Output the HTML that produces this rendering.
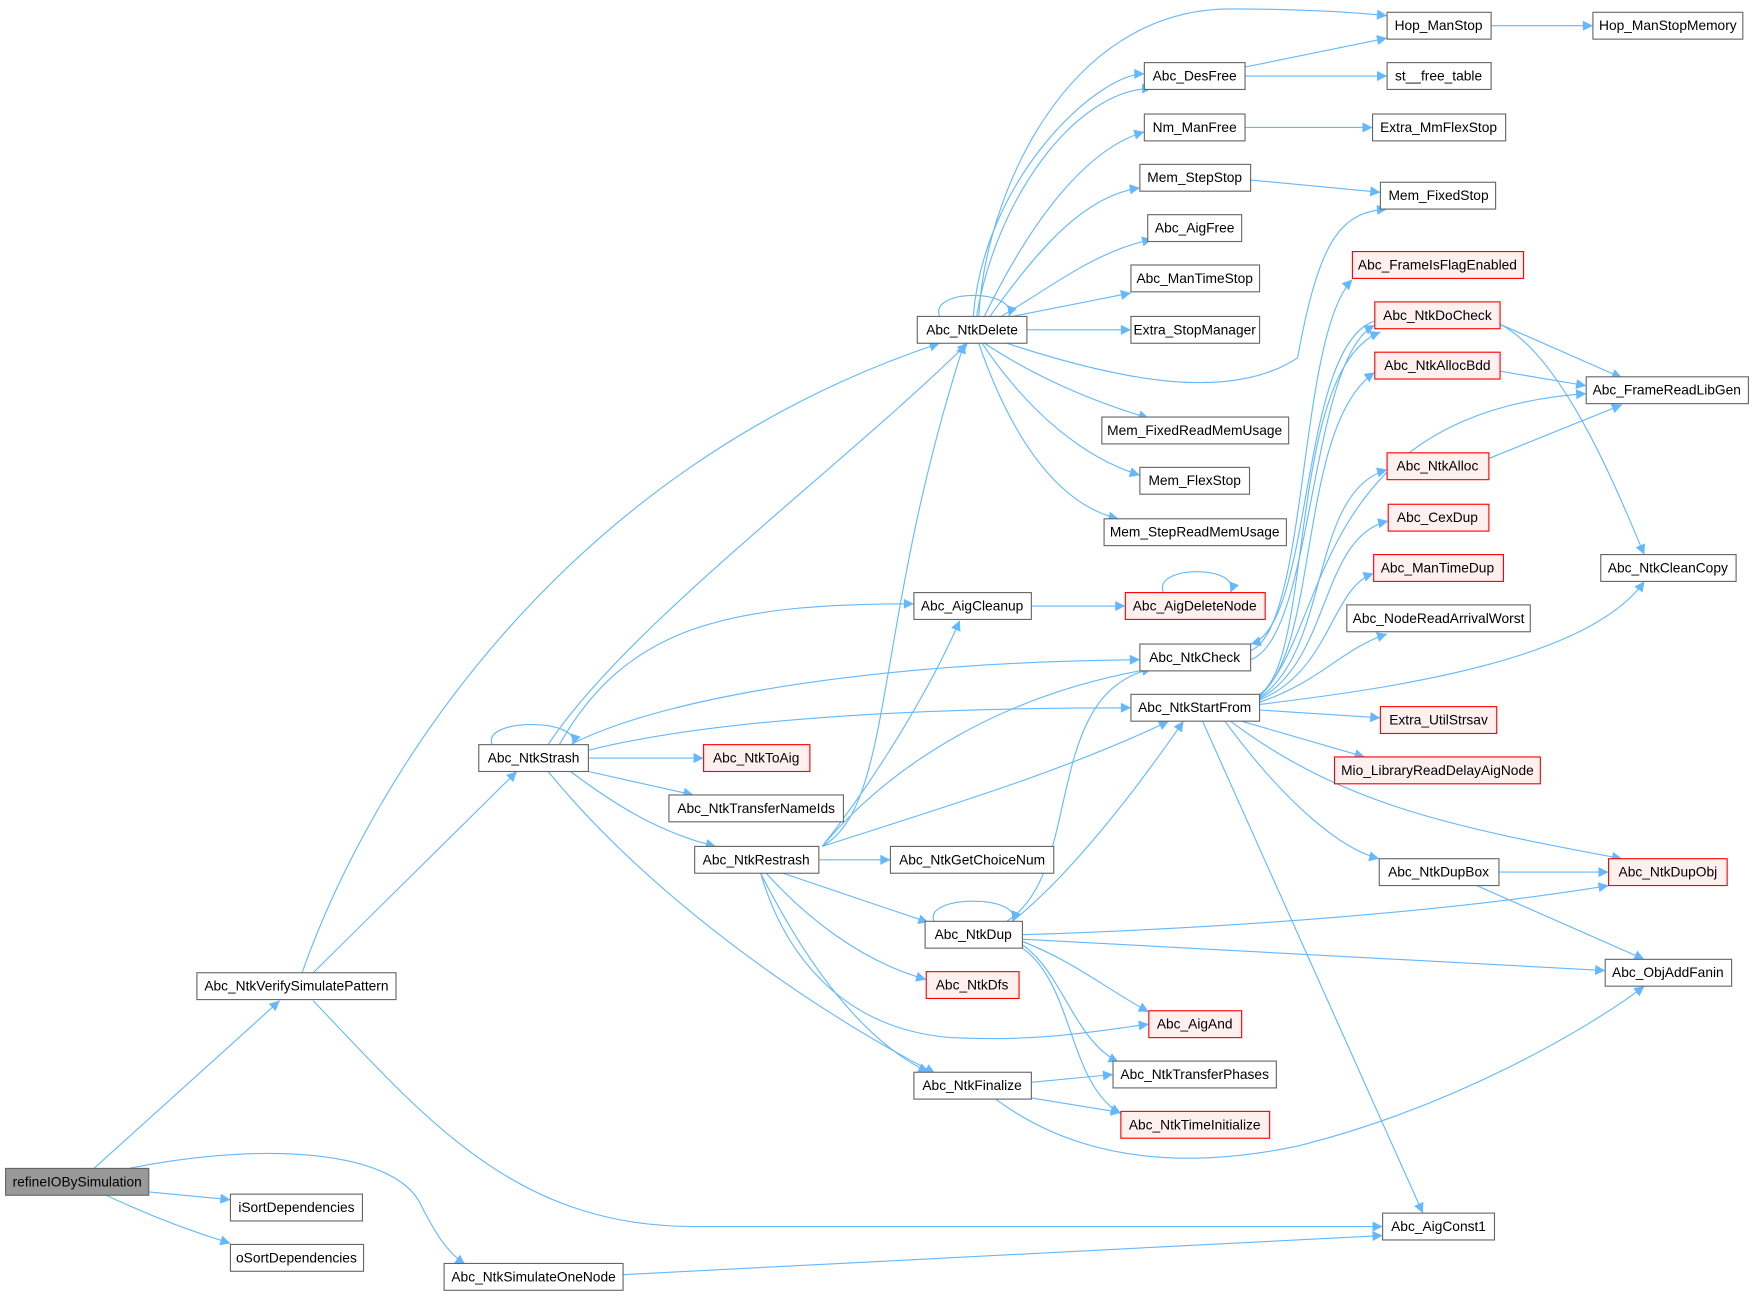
<!DOCTYPE html>
<html><head><meta charset="utf-8"><style>
html,body{margin:0;padding:0;background:#fff;}
svg{display:block;}
text{font-family:"Liberation Sans",Arial,sans-serif;font-size:12.3px;fill:#000;text-anchor:middle;}
.n{fill:#fff;stroke:#666;stroke-width:1;}
.r{fill:#fff0f0;stroke:#f00;stroke-width:1;}
.g{fill:#999;stroke:#666;stroke-width:1;}
path.e{fill:none;stroke:#63b8ff;stroke-width:1;marker-end:url(#a);}
</style></head><body>
<svg width="1754" height="1297" viewBox="0 0 1568 1160" preserveAspectRatio="none" xmlns="http://www.w3.org/2000/svg">
<defs><marker id="a" viewBox="0 0 10 10" refX="10" refY="5" markerWidth="11" markerHeight="9" orient="auto" markerUnits="userSpaceOnUse"><path d="M0,0 L10,5 L0,10 z" fill="#63b8ff"/></marker></defs>
<rect width="1568" height="1160" fill="#fff"/>
<g>
<path class="e" d="M84,1045 L250,895"/>
<path class="e" d="M133,1066 L206,1073"/>
<path class="e" d="M95,1069 Q150,1095 206,1112"/>
<path class="e" d="M115,1045 C240,1020 350,1030 375,1075 C390,1105 400,1120 416,1131"/>
<path class="e" d="M270,870 C330,700 500,420 840,307"/>
<path class="e" d="M280,870 L462,690"/>
<path class="e" d="M280,895 C380,1000 460,1097 620,1097 L1236,1097"/>
<path class="e" d="M440,666 C430,642 520,642 512,666"/>
<path class="e" d="M490,666 C560,560 750,420 865,307"/>
<path class="e" d="M500,666 C560,560 650,540 817,540"/>
<path class="e" d="M510,666 C600,620 800,592 1019,590"/>
<path class="e" d="M526,671 C650,640 850,633 1011,633"/>
<path class="e" d="M526,678 L629,678"/>
<path class="e" d="M526,690 L620,711"/>
<path class="e" d="M510,690 C550,720 590,745 640,757"/>
<path class="e" d="M490,690 C580,800 720,900 836,960"/>
<path class="e" d="M735,757 C800,720 780,560 862,307"/>
<path class="e" d="M735,757 C780,700 830,620 858,555"/>
<path class="e" d="M735,757 C800,680 900,620 1030,598"/>
<path class="e" d="M735,757 C850,720 950,690 1045,645"/>
<path class="e" d="M732,769 L796,769"/>
<path class="e" d="M700,781 L830,825"/>
<path class="e" d="M685,781 C720,820 770,860 828,876"/>
<path class="e" d="M680,781 C700,850 750,920 850,928 C930,932 980,922 1027,916"/>
<path class="e" d="M680,781 C720,860 770,930 830,959"/>
<path class="e" d="M835,824 C825,800 915,800 905,824"/>
<path class="e" d="M900,824 C970,780 930,620 1030,598"/>
<path class="e" d="M905,824 C960,780 1020,700 1058,645"/>
<path class="e" d="M914,836 C1100,830 1300,815 1438,792"/>
<path class="e" d="M914,840 L1435,868"/>
<path class="e" d="M914,842 C960,860 990,885 1027,905"/>
<path class="e" d="M914,845 C950,870 960,930 1000,950"/>
<path class="e" d="M914,848 C960,880 955,970 1002,996"/>
<path class="e" d="M922,968 L995,961"/>
<path class="e" d="M922,982 L1002,995"/>
<path class="e" d="M890,983 C960,1035 1050,1048 1160,1025 C1300,990 1420,920 1470,882"/>
<path class="e" d="M922,542 L1006,542"/>
<path class="e" d="M1040,530 C1030,505 1110,505 1100,530"/>
<path class="e" d="M840,283 C830,258 910,258 902,283"/>
<path class="e" d="M875,283 C880,180 950,8 1100,8 C1150,8 1200,10 1240,14"/>
<path class="e" d="M873,283 C890,180 960,80 1030,79"/>
<path class="e" d="M870,283 C880,160 980,66 1023,66"/>
<path class="e" d="M880,283 C930,180 980,130 1023,118"/>
<path class="e" d="M885,283 C930,220 970,175 1019,168"/>
<path class="e" d="M895,283 C950,250 980,225 1030,214"/>
<path class="e" d="M905,283 L1011,262"/>
<path class="e" d="M918,295 L1011,295"/>
<path class="e" d="M900,307 C1000,340 1100,360 1160,320 C1180,210 1200,190 1240,187"/>
<path class="e" d="M880,307 C930,340 980,360 1027,374"/>
<path class="e" d="M878,307 C920,370 970,410 1019,425"/>
<path class="e" d="M875,307 C900,380 940,450 1000,464"/>
<path class="e" d="M1113,60 L1240,34"/>
<path class="e" d="M1113,68 L1240,68"/>
<path class="e" d="M1113,114 L1227,114"/>
<path class="e" d="M1118,161 L1234,172"/>
<path class="e" d="M1333,23 L1424,23"/>
<path class="e" d="M1229,287 C1160,310 1175,560 1118,576"/>
<path class="e" d="M1118,582 C1170,560 1160,300 1209,250"/>
<path class="e" d="M1118,590 C1175,570 1170,320 1229,291"/>
<path class="e" d="M1126,621 C1175,590 1150,330 1234,297"/>
<path class="e" d="M1126,622 C1180,580 1160,380 1229,333"/>
<path class="e" d="M1126,623 C1190,560 1170,370 1418,352"/>
<path class="e" d="M1126,624 C1190,580 1170,440 1240,420"/>
<path class="e" d="M1126,625 C1190,590 1180,480 1241,466"/>
<path class="e" d="M1126,626 C1190,600 1190,525 1228,513"/>
<path class="e" d="M1126,628 C1180,610 1200,580 1240,567"/>
<path class="e" d="M1126,630 C1250,615 1420,590 1470,520"/>
<path class="e" d="M1126,635 L1234,642"/>
<path class="e" d="M1110,645 L1220,677"/>
<path class="e" d="M1095,645 C1150,720 1200,760 1233,768"/>
<path class="e" d="M1100,645 C1200,720 1300,740 1450,768"/>
<path class="e" d="M1075,645 L1272,1085"/>
<path class="e" d="M1341,290 L1450,338"/>
<path class="e" d="M1341,290 C1400,320 1450,450 1470,496"/>
<path class="e" d="M1341,332 L1418,345"/>
<path class="e" d="M1331,410 L1450,362"/>
<path class="e" d="M1340,780 L1438,780"/>
<path class="e" d="M1320,792 L1470,858"/>
<path class="e" d="M557,1140 L1236,1105"/>
</g>
<g>
<rect class="g" x="5" y="1045" width="128" height="24"/><text x="69" y="1061">refineIOBySimulation</text>
<rect class="n" x="206" y="1068" width="118" height="24"/><text x="265" y="1084">iSortDependencies</text>
<rect class="n" x="206" y="1113" width="119" height="24"/><text x="265" y="1129">oSortDependencies</text>
<rect class="n" x="397" y="1130" width="160" height="24"/><text x="477" y="1146">Abc_NtkSimulateOneNode</text>
<rect class="n" x="176" y="870" width="178" height="24"/><text x="265" y="886">Abc_NtkVerifySimulatePattern</text>
<rect class="n" x="428" y="666" width="98" height="24"/><text x="477" y="682">Abc_NtkStrash</text>
<rect class="r" x="629" y="666" width="95" height="24"/><text x="676" y="682">Abc_NtkToAig</text>
<rect class="n" x="598" y="711" width="156" height="24"/><text x="676" y="727">Abc_NtkTransferNameIds</text>
<rect class="n" x="621" y="757" width="111" height="24"/><text x="676" y="773">Abc_NtkRestrash</text>
<rect class="n" x="796" y="757" width="146" height="24"/><text x="869" y="773">Abc_NtkGetChoiceNum</text>
<rect class="n" x="827" y="824" width="87" height="24"/><text x="870" y="840">Abc_NtkDup</text>
<rect class="r" x="828" y="869" width="83" height="24"/><text x="869" y="885">Abc_NtkDfs</text>
<rect class="n" x="817" y="959" width="105" height="24"/><text x="869" y="975">Abc_NtkFinalize</text>
<rect class="r" x="1027" y="904" width="83" height="24"/><text x="1068" y="920">Abc_AigAnd</text>
<rect class="n" x="995" y="949" width="146" height="24"/><text x="1068" y="965">Abc_NtkTransferPhases</text>
<rect class="r" x="1002" y="994" width="133" height="24"/><text x="1068" y="1010">Abc_NtkTimeInitialize</text>
<rect class="n" x="817" y="530" width="105" height="24"/><text x="869" y="546">Abc_AigCleanup</text>
<rect class="r" x="1006" y="530" width="125" height="24"/><text x="1068" y="546">Abc_AigDeleteNode</text>
<rect class="n" x="1019" y="576" width="99" height="24"/><text x="1068" y="592">Abc_NtkCheck</text>
<rect class="n" x="1011" y="621" width="115" height="24"/><text x="1068" y="637">Abc_NtkStartFrom</text>
<rect class="n" x="820" y="283" width="98" height="24"/><text x="869" y="299">Abc_NtkDelete</text>
<rect class="n" x="1240" y="11" width="93" height="24"/><text x="1286" y="27">Hop_ManStop</text>
<rect class="n" x="1424" y="11" width="134" height="24"/><text x="1491" y="27">Hop_ManStopMemory</text>
<rect class="n" x="1023" y="56" width="90" height="24"/><text x="1068" y="72">Abc_DesFree</text>
<rect class="n" x="1240" y="56" width="93" height="24"/><text x="1286" y="72">st__free_table</text>
<rect class="n" x="1023" y="102" width="90" height="24"/><text x="1068" y="118">Nm_ManFree</text>
<rect class="n" x="1227" y="102" width="119" height="24"/><text x="1286" y="118">Extra_MmFlexStop</text>
<rect class="n" x="1019" y="147" width="99" height="24"/><text x="1068" y="163">Mem_StepStop</text>
<rect class="n" x="1234" y="163" width="103" height="24"/><text x="1286" y="179">Mem_FixedStop</text>
<rect class="n" x="1026" y="192" width="84" height="24"/><text x="1068" y="208">Abc_AigFree</text>
<rect class="n" x="1011" y="237" width="115" height="24"/><text x="1068" y="253">Abc_ManTimeStop</text>
<rect class="n" x="1011" y="283" width="115" height="24"/><text x="1068" y="299">Extra_StopManager</text>
<rect class="n" x="985" y="373" width="167" height="24"/><text x="1068" y="389">Mem_FixedReadMemUsage</text>
<rect class="n" x="1019" y="418" width="98" height="24"/><text x="1068" y="434">Mem_FlexStop</text>
<rect class="n" x="987" y="464" width="163" height="24"/><text x="1068" y="480">Mem_StepReadMemUsage</text>
<rect class="r" x="1209" y="225" width="153" height="24"/><text x="1285" y="241">Abc_FrameIsFlagEnabled</text>
<rect class="r" x="1229" y="270" width="112" height="24"/><text x="1285" y="286">Abc_NtkDoCheck</text>
<rect class="r" x="1229" y="315" width="112" height="24"/><text x="1285" y="331">Abc_NtkAllocBdd</text>
<rect class="n" x="1418" y="337" width="145" height="24"/><text x="1490" y="353">Abc_FrameReadLibGen</text>
<rect class="r" x="1240" y="405" width="91" height="24"/><text x="1285" y="421">Abc_NtkAlloc</text>
<rect class="r" x="1241" y="451" width="90" height="24"/><text x="1285" y="467">Abc_CexDup</text>
<rect class="r" x="1228" y="496" width="116" height="24"/><text x="1285" y="512">Abc_ManTimeDup</text>
<rect class="n" x="1204" y="541" width="164" height="24"/><text x="1286" y="557">Abc_NodeReadArrivalWorst</text>
<rect class="n" x="1431" y="496" width="121" height="24"/><text x="1491" y="512">Abc_NtkCleanCopy</text>
<rect class="r" x="1234" y="632" width="104" height="24"/><text x="1286" y="648">Extra_UtilStrsav</text>
<rect class="r" x="1193" y="677" width="184" height="24"/><text x="1285" y="693">Mio_LibraryReadDelayAigNode</text>
<rect class="n" x="1233" y="768" width="107" height="24"/><text x="1286" y="784">Abc_NtkDupBox</text>
<rect class="r" x="1438" y="768" width="106" height="24"/><text x="1491" y="784">Abc_NtkDupObj</text>
<rect class="n" x="1435" y="858" width="113" height="24"/><text x="1491" y="874">Abc_ObjAddFanin</text>
<rect class="n" x="1236" y="1085" width="100" height="24"/><text x="1286" y="1101">Abc_AigConst1</text>
</g>
</svg>
</body></html>
